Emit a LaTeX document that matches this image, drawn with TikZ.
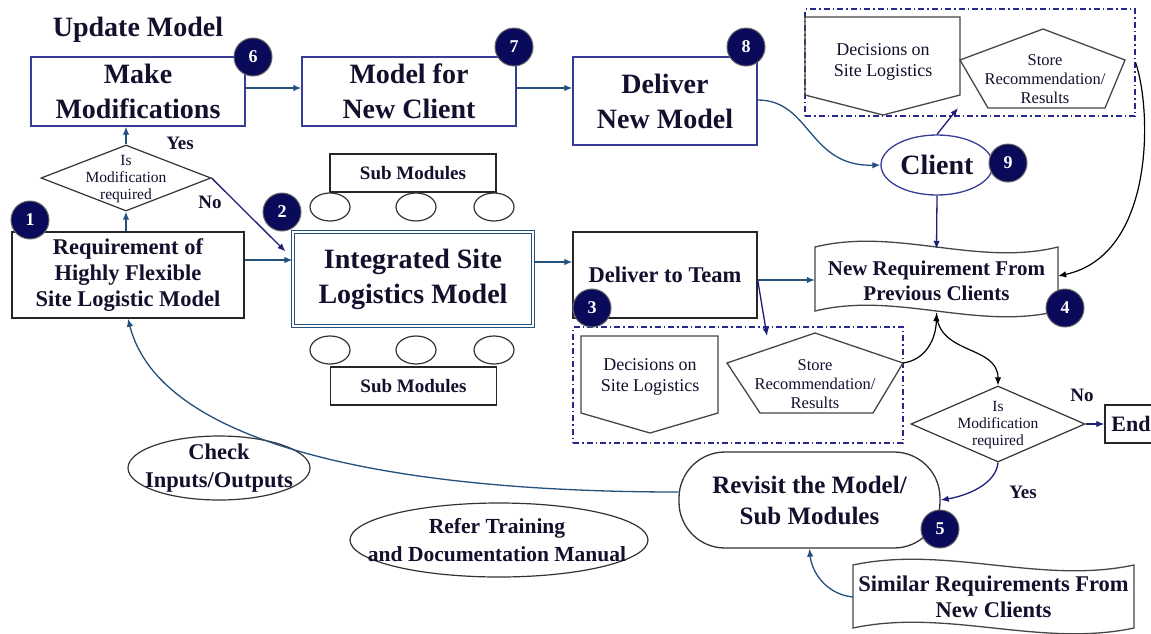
\documentclass[tikz,border=0pt]{standalone}
\usepackage{fontspec}
\setmainfont{Liberation Serif}
\usetikzlibrary{shapes.geometric,arrows.meta,calc}
\definecolor{txt}{RGB}{20,15,45}
\definecolor{boxblue}{RGB}{55,60,150}
\definecolor{steel}{RGB}{35,80,125}
\definecolor{navy}{RGB}{30,30,120}
\definecolor{badgefill}{RGB}{10,10,90}
\definecolor{dashnavy}{RGB}{40,40,140}
\definecolor{shapegray}{RGB}{70,70,70}
\newcommand{\tapeshape}[4]{%
  \draw[grayshape] (#1,#2) .. controls ({#1+(#3-#1)/3},{#2-20}) and ({#1+2*(#3-#1)/3},{#2+20}) .. (#3,#2)
    -- (#3,#4) .. controls ({#1+2*(#3-#1)/3},{#4+20}) and ({#1+(#3-#1)/3},{#4-20}) .. (#1,#4) -- cycle;}
\tikzset{
  bigtxt/.style={font=\bfseries\fontsize{28}{35}\selectfont, text=txt, align=center},
  midtxt/.style={font=\bfseries\fontsize{22.5}{26}\selectfont, text=txt, align=center},
  smalltxt/.style={font=\fontsize{15.5}{17}\selectfont, text=txt, align=center},
  dectxt/.style={font=\fontsize{18}{21}\selectfont, text=txt, align=center},
  storetxt/.style={font=\fontsize{16.5}{19}\selectfont, text=txt, align=center},
  bluebox/.style={draw=boxblue, line width=1.4pt, inner sep=0pt},
  blackbox/.style={draw=black!85, line width=1.4pt, inner sep=0pt},
  badge/.style={circle, fill=badgefill, draw=black!60, line width=1pt, minimum size=38pt, inner sep=0pt, text=white, font=\bfseries\fontsize{18}{18}\selectfont},
  arr/.style={draw=steel, line width=1.3pt, -{Latex[length=8pt,width=6.5pt]}},
  narr/.style={draw=navy, line width=1.3pt, -{Latex[length=8pt,width=6.5pt]}},
  karr/.style={draw=black, line width=1.2pt, -{Latex[length=8pt,width=6.5pt]}},
  dashbox/.style={draw=dashnavy, line width=1.1pt, dash pattern=on 6pt off 3pt on 1.5pt off 3pt, inner sep=0pt},
  grayshape/.style={draw=shapegray, line width=1.3pt},
  lbl/.style={font=\bfseries\fontsize{19}{19}\selectfont, text=txt},
  decision/.style={diamond, draw=black!80, line width=1.2pt, inner sep=0pt},
  oval/.style={ellipse, draw=black!80, line width=1.2pt, inner sep=0pt},
}
\begin{document}
\begin{tikzpicture}[x=1pt,y=-1pt]
\useasboundingbox (0,0) rectangle (1151,633);
\fill[white] (0,0) rectangle (1151,633);

% top row
\node[bigtxt] (upd) at (138,30) {Update Model};
\node[bluebox, bigtxt, minimum width=214pt, minimum height=69pt] (mm) at (138,91.5) {Make\\Modifications};
\node[bluebox, bigtxt, minimum width=214pt, minimum height=69pt] (mnc) at (409,91.5) {Model for\\New Client};
\node[bluebox, bigtxt, minimum width=184pt, minimum height=88pt] (dnm) at (665,101) {Deliver\\New Model};

% decision 1
\node[decision, minimum width=170pt, minimum height=66pt] (d1) at (126,178) {};
\node[smalltxt] (d1t) at (126,179) {Is\\Modification\\required};

% requirement
\node[blackbox, midtxt, minimum width=232pt, minimum height=86pt] (req) at (128,275) {Requirement of\\Highly Flexible\\Site Logistic Model};

% integrated model
\node[draw=steel, double=white, double distance=2.2pt, line width=1.1pt, bigtxt, minimum width=240pt, minimum height=94pt, inner sep=0pt] (isl) at (413,279) {Integrated Site\\Logistics Model};
\node[blackbox, font=\bfseries\fontsize{19}{19}\selectfont, text=txt, minimum width=166pt, minimum height=38pt] (smt) at (413,173) {Sub Modules};
\node[blackbox, font=\bfseries\fontsize{19}{19}\selectfont, text=txt, minimum width=166pt, minimum height=38pt] (smb) at (413.5,386) {Sub Modules};
\foreach \i/\x in {1/330,2/416,3/494}{
  \node[oval, minimum width=40pt, minimum height=28pt] (et\i) at (\x,207) {};
  \node[oval, minimum width=40pt, minimum height=28pt] (eb\i) at (\x,350) {};
}

% deliver to team
\node[blackbox, midtxt, minimum width=184pt, minimum height=86pt] (dtt) at (665,275) {Deliver to Team};

% dashed groups
\node[dashbox, minimum width=330pt, minimum height=116pt] (db2) at (738,385) {};
\node[dashbox, minimum width=330pt, minimum height=107pt] (db1) at (970,62.5) {};

\draw[grayshape] (581,336) -- (718,336) -- (718,413) -- (650,433) -- (581,413) -- cycle;
\node[dectxt] (dec2) at (650,377) {Decisions on\\Site Logistics};
\draw[grayshape] (805,17) -- (960,17) -- (960,95) -- (883,115) -- (805,95) -- cycle;
\node[dectxt] (dec1) at (883,62) {Decisions on\\Site Logistics};

\draw[grayshape] (815,333) -- (903,363) -- (873,413) -- (760,413) -- (727,363) -- cycle;
\node[storetxt] (st2) at (815,384) {Store\\Recommendation/\\Results};
\coordinate (st2r) at (903,363);
\draw[grayshape] (1043,29) -- (1125,60) -- (1105,108) -- (988,108) -- (960,60) -- cycle;
\node[storetxt] (st1) at (1045,79) {Store\\Recommendation/\\Results};

% new requirement
\tapeshape{815}{247}{1058}{311}
\node[font=\bfseries\fontsize{21}{25}\selectfont, text=txt, align=center, minimum width=243pt, minimum height=64pt, inner sep=0pt] (nr) at (936.5,281) {New Requirement From\\Previous Clients};

% client
\node[ellipse, draw=boxblue, line width=1.3pt, bigtxt, minimum width=112pt, minimum height=60pt, inner sep=0pt] (cl) at (937,165) {Client};

% decision 2 and end
\node[decision, minimum width=174pt, minimum height=76pt] (d2) at (998,424) {};
\node[smalltxt] (d2t) at (998,425) {Is\\Modification\\required};
\node[blackbox, font=\bfseries\fontsize{22}{22}\selectfont, text=txt, minimum width=52pt, minimum height=38pt] (end) at (1131,424) {End};

% revisit
\node[draw=black!80, line width=1.3pt, rounded corners=46pt, font=\bfseries\fontsize{25}{31}\selectfont, text=txt, align=center, minimum width=261pt, minimum height=96pt, inner sep=0pt] (rev) at (809.5,500) {Revisit the Model/\\Sub Modules};

% similar requirements
\tapeshape{853}{565}{1134}{628}
\node[midtxt, minimum width=281pt, minimum height=63pt, inner sep=0pt] (sim) at (993.5,597) {Similar Requirements From\\New Clients};

% check / refer ellipses
\node[oval, minimum width=182pt, minimum height=64pt] (chk) at (219,468) {};
\node[midtxt, font=\bfseries\fontsize{22.5}{28}\selectfont] (chkt) at (219,468) {Check\\Inputs/Outputs};
\node[oval, minimum width=298pt, minimum height=74pt] (ref) at (499,540) {};
\node[font=\bfseries\fontsize{21.5}{28}\selectfont, text=txt, align=center] (reft) at (497,540) {Refer Training\\and Documentation Manual};

% connectors
\draw[arr] ([yshift=3.5pt]mm.east) -- ([yshift=3.5pt]mm.east -| mnc.west);
\draw[arr] ([yshift=3.5pt]mnc.east) -- ([yshift=3.5pt]mnc.east -| dnm.west);
\draw[arr] ([yshift=1pt]dnm.east) .. controls +(53,0) and +(-72,2) .. (cl.west);
\draw[arr] (d1.south |- req.north) -- (d1.south);
\draw[arr] (d1.north) -- (d1.north |- mm.south);
\draw[narr] (d1.east) -- ([xshift=-7pt,yshift=-20pt]isl.north west);
\node[lbl] (yes1) at (180,143) {Yes};
\node[lbl] (no1) at (210,202) {No};
\draw[arr] ([yshift=15pt]req.east) -- ([yshift=15pt]req.east -| isl.west);
\draw[arr] ([yshift=17pt]isl.east) -- ([yshift=17pt]isl.east -| dtt.west);
\draw[arr] ([yshift=-5pt]dtt.east) -- ([yshift=-5pt]dtt.east -| nr.west);
\coordinate (db2in) at (767,336);
\draw[narr] ([yshift=-5pt]dtt.east) -- (db2in);
\draw[karr] (st2r) .. controls (925,360) and (936,340) .. (nr.south);
\draw[karr] (nr.south) .. controls (938,355) and (998,345) .. (d2.north);
\draw[narr] (d2.east) -- (end.west);
\node[lbl] (no2) at (1082,395) {No};
\draw[narr] (d2.south) .. controls +(-2,22) and +(25,-4) .. (rev.east);
\node[lbl] (yes2) at (1023,492) {Yes};
\draw[arr] (sim.west) .. controls +(-28,-3) and +(2,22) .. (rev.south);
\draw[arr] ([yshift=8pt]rev.west) .. controls (390,492) and (160,445) .. (req.south);
\coordinate (db1in) at (958,108);
\draw[narr] (cl.north) -- (db1in);
\draw[narr] (cl.south) -- (nr.north);
\draw[karr] (db1.east) .. controls (1152,110) and (1155,255) .. ([yshift=5pt]nr.east);

% badges
\node[badge] (b1) at (30,220) {1};
\node[badge] (b2) at (282,212) {2};
\node[badge] (b3) at (592,308) {3};
\node[badge] (b4) at (1065,308) {4};
\node[badge] (b5) at (940,529) {5};
\node[badge] (b6) at (253,57) {6};
\node[badge] (b7) at (514,47) {7};
\node[badge] (b8) at (746,47) {8};
\node[badge] (b9) at (1008,163) {9};
\end{tikzpicture}
\end{document}
